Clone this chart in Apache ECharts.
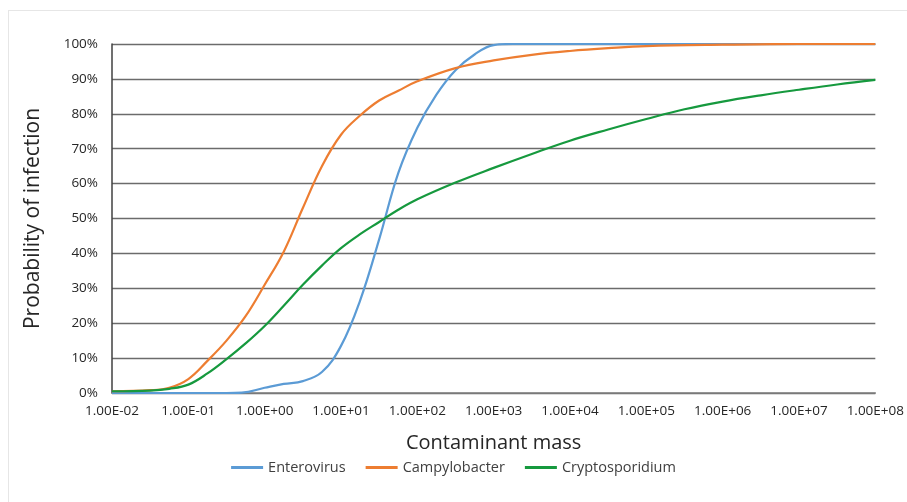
<!DOCTYPE html>
<html>
<head>
<meta charset="utf-8">
<script src="https://cdn.jsdelivr.net/npm/echarts@6/dist/echarts.min.js"></script>
<style>
  html, body { margin: 0; padding: 0; background: #fff; }
  #frame {
    position: absolute; left: 8px; top: 10px; width: 920px; height: 520px;
    border-left: 1px solid #e6e6e6; border-top: 1px solid #e6e6e6;
  }
  #chart { position: absolute; left: 0; top: 0; width: 907px; height: 502px; }
</style>
</head>
<body>
<div id="frame"></div>
<div id="chart"></div>
<script>
// x values are log10 of contaminant mass
const enteroX = [-2, -1, -0.5, -0.3, 0, 0.25, 0.5, 0.75, 1.0, 1.25, 1.5, 1.75, 2.0, 2.25, 2.5, 2.75, 3.0, 3.25, 4, 5, 6, 7, 8];
const enteroY = [0, 0, 0, 0.1, 1.5, 2.6, 3.4, 6, 13.5, 26.5, 44, 63, 76, 85.5, 92.5, 97, 99.7, 100, 100, 100, 100, 100, 100];

const campyX = [-2, -1.5, -1.25, -1.0, -0.75, -0.5, -0.25, 0, 0.25, 0.5, 0.75, 1.0, 1.25, 1.5, 1.75, 2.0, 2.5, 3.0, 3.5, 4.0, 4.5, 5.0, 6.0, 7.0, 8];
const campyY = [0.5, 0.8, 1.5, 4, 9.2, 15, 22, 31, 40.5, 53, 65, 74, 79.5, 83.8, 86.6, 89.3, 93.1, 95.3, 96.9, 98, 98.8, 99.4, 99.8, 100, 100];

const cryptoX = [-2, -1.5, -1.25, -1.0, -0.75, -0.5, -0.25, 0, 0.25, 0.5, 0.75, 1.0, 1.25, 1.5, 1.75, 2.0, 2.5, 3.0, 3.5, 4.0, 4.5, 5.0, 5.5, 6.0, 6.5, 7.0, 7.5, 8];
const cryptoY = [0.5, 0.7, 1.2, 2.4, 5.6, 9.7, 14.2, 19.2, 25, 31, 36.5, 41.5, 45.5, 49, 52.5, 55.5, 60.3, 64.5, 68.5, 72.3, 75.5, 78.5, 81.3, 83.5, 85.3, 86.9, 88.4, 89.7];

const yTicks = [0, 10, 20, 30, 40, 50, 60, 70, 80, 90, 100];

function pairs(xs, ys) { return xs.map((x, i) => [x, ys[i]]); }
function expLabel(v) {
  const e = Math.round(v);
  const s = e < 0 ? '-' : '+';
  const a = Math.abs(e);
  return '1.00E' + s + (a < 10 ? '0' : '') + a;
}

const font = "'Open Sans', 'Liberation Sans', sans-serif";
const chart = echarts.init(document.getElementById('chart'));
chart.setOption({
  animation: false,
  textStyle: { fontFamily: font },
  color: ['#5B9BD5', '#ED7D31', '#16993E'],
  grid: { left: 112, right: 30, top: 44, bottom: 109, containLabel: false },
  legend: {
    bottom: 22,
    left: 'center',
    itemWidth: 32,
    itemHeight: 3,
    itemGap: 20,
    icon: 'rect',
    textStyle: { fontSize: 14.5, color: '#404040', fontFamily: font },
    data: ['Enterovirus', 'Campylobacter', 'Cryptosporidium']
  },
  xAxis: {
    type: 'value',
    min: -2, max: 8, interval: 1,
    name: 'Contaminant mass',
    nameLocation: 'middle',
    nameGap: 40,
    nameTextStyle: { fontSize: 20, color: '#262626', fontFamily: font },
    axisLine: { onZero: false, lineStyle: { color: '#7f7f7f', width: 1.5 } },
    axisTick: { show: false },
    splitLine: { show: false },
    axisLabel: { formatter: expLabel, fontSize: 13.5, color: '#262626', margin: 11, fontFamily: font }
  },
  yAxis: {
    type: 'value',
    min: 0, max: 100, interval: 10,
    name: 'Probability of infection',
    nameLocation: 'middle',
    nameGap: 68,
    nameTextStyle: { fontSize: 21, color: '#262626', fontFamily: font },
    axisLine: { show: true, onZero: false, lineStyle: { color: '#404040', width: 1.5 } },
    axisTick: { show: false },
    splitLine: { lineStyle: { color: '#6b6b6b', width: 1.3 } },
    axisLabel: { formatter: v => yTicks.includes(v) ? v + '%' : '', fontSize: 13.5, color: '#262626', margin: 14, fontFamily: font }
  },
  series: [
    { name: 'Enterovirus', type: 'line', data: pairs(enteroX, enteroY), smooth: 0.4, symbol: 'none', lineStyle: { width: 2.2 } },
    { name: 'Campylobacter', type: 'line', data: pairs(campyX, campyY), smooth: 0.4, symbol: 'none', lineStyle: { width: 2.2 } },
    { name: 'Cryptosporidium', type: 'line', data: pairs(cryptoX, cryptoY), smooth: 0.4, symbol: 'none', lineStyle: { width: 2.2 } }
  ]
});
</script>
</body>
</html>
